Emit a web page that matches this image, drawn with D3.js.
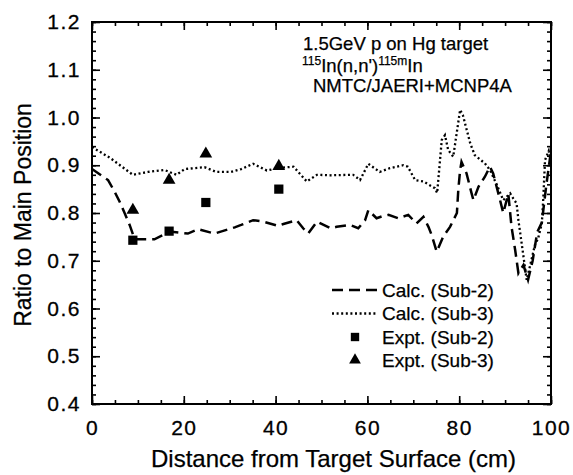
<!DOCTYPE html>
<html>
<head>
<meta charset="utf-8">
<script src="https://cdn.jsdelivr.net/npm/d3@7"></script>
<style>
body { margin: 0; background: #fff; }
svg { font-family: Arial, "Liberation Sans", Helvetica, sans-serif; }
</style>
</head>
<body>
<svg id="svg1" width="573" height="475"></svg>
<script>
// Calc. (Sub-2), dashed
var sub2X = [0, 3.5, 4.9, 6, 7.1, 8.2, 9.3, 13.6, 16.9, 20.9, 23.1, 26.7, 31.1, 32.5, 35.1, 37.3, 40.6, 41.7, 44.6, 46, 47.1, 49, 52, 53.3, 56.2, 58, 59.5, 60.2, 62, 63.5, 64.6, 66.7, 68.9, 70.7, 72.2, 73.3, 74, 75.1, 76.5, 78, 79.5, 79.8, 80.2, 80.5, 81.6, 82.7, 83.1, 84.2, 85.6, 86.7, 87.4, 88.9, 89.6, 90.7, 91.4, 92.2, 92.9, 94, 95, 96, 97, 98, 99, 100];
var sub2Y = [0.892, 0.869, 0.845, 0.824, 0.8, 0.775, 0.745, 0.745, 0.761, 0.757, 0.766, 0.757, 0.77, 0.775, 0.785, 0.782, 0.773, 0.777, 0.785, 0.768, 0.757, 0.782, 0.768, 0.771, 0.775, 0.768, 0.785, 0.806, 0.789, 0.794, 0.796, 0.789, 0.796, 0.778, 0.792, 0.771, 0.754, 0.719, 0.75, 0.771, 0.8, 0.848, 0.89, 0.907, 0.883, 0.841, 0.827, 0.855, 0.876, 0.897, 0.883, 0.827, 0.8, 0.84, 0.771, 0.722, 0.674, 0.691, 0.66, 0.7, 0.76, 0.78, 0.86, 0.93];
// Calc. (Sub-3), dotted
var sub3X = [0, 4, 8.9, 12.2, 15.8, 18.4, 20.2, 24.5, 27.1, 30.3, 32.5, 35.1, 38.1, 40.5, 43.9, 46.8, 49, 52, 56.9, 58.4, 60.2, 62.7, 64.9, 67.8, 68.8, 70.4, 72.2, 74.7, 75.2, 76.2, 76.9, 77.6, 78.7, 80.2, 80.8, 82.4, 83.4, 85.6, 86.7, 88.2, 89.6, 91.1, 91.8, 92.5, 92.9, 93.6, 94.7, 95.4, 96.5, 97.2, 98, 98.3, 98.7, 99.5, 100];
var sub3Y = [0.938, 0.915, 0.88, 0.886, 0.89, 0.88, 0.892, 0.896, 0.886, 0.886, 0.892, 0.903, 0.889, 0.894, 0.897, 0.866, 0.88, 0.879, 0.88, 0.869, 0.903, 0.886, 0.894, 0.9, 0.897, 0.869, 0.866, 0.852, 0.842, 0.953, 0.963, 0.932, 0.918, 1.016, 1.005, 0.946, 0.921, 0.904, 0.89, 0.859, 0.827, 0.841, 0.83, 0.82, 0.785, 0.737, 0.66, 0.688, 0.733, 0.747, 0.778, 0.827, 0.911, 0.93, 0.905];
// measurements
var exptX = [8.9, 16.8, 24.8, 40.7];
var expt2Y = [0.743, 0.762, 0.822, 0.85];
var expt3Y = [0.806, 0.869, 0.924, 0.898];

var legendLabels = ['Calc. (Sub-2)', 'Calc. (Sub-3)', 'Expt. (Sub-2)', 'Expt. (Sub-3)'];

var svg1 = d3.select('#svg1');
var left = 92, top_ = 22, right = 551, bottom = 404;

var x = d3.scaleLinear().domain([0, 100]).range([left, right]);
var y = d3.scaleLinear().domain([0.4, 1.2]).range([bottom, top_]);

var xMajor = d3.range(0, 101, 20), xMinor = d3.range(0, 101, 5);
var yMajor = d3.range(4, 13).map(d => d / 10), yMinor = d3.range(20, 61).map(d => d / 50);

function styleAxis(g) {
	g.select('.domain').remove();
	g.selectAll('line').attr('stroke', '#000').attr('stroke-width', 1.6);
	g.selectAll('text').attr('fill', '#000').attr('font-size', 21).attr('letter-spacing', 1.5)
		.attr('stroke', '#000').attr('stroke-width', 0.3);
}

// minor ticks
svg1.append('g').attr('transform', 'translate(0,' + bottom + ')')
	.call(d3.axisBottom(x).tickValues(xMinor).tickFormat('').tickSize(-4)).call(styleAxis);
svg1.append('g').attr('transform', 'translate(0,' + top_ + ')')
	.call(d3.axisTop(x).tickValues(xMinor).tickFormat('').tickSize(-4)).call(styleAxis);
svg1.append('g').attr('transform', 'translate(' + left + ',0)')
	.call(d3.axisLeft(y).tickValues(yMinor).tickFormat('').tickSize(-4)).call(styleAxis);
svg1.append('g').attr('transform', 'translate(' + right + ',0)')
	.call(d3.axisRight(y).tickValues(yMinor).tickFormat('').tickSize(-4)).call(styleAxis);

// major ticks + labels
svg1.append('g').attr('transform', 'translate(0,' + bottom + ')')
	.call(d3.axisBottom(x).tickValues(xMajor).tickFormat(d3.format('d')).tickSize(-8).tickPadding(16)).call(styleAxis);
svg1.append('g').attr('transform', 'translate(0,' + top_ + ')')
	.call(d3.axisTop(x).tickValues(xMajor).tickFormat('').tickSize(-8)).call(styleAxis);
svg1.append('g').attr('transform', 'translate(' + left + ',0)')
	.call(d3.axisLeft(y).tickValues(yMajor).tickFormat(d3.format('.1f')).tickSize(-8).tickPadding(11)).call(styleAxis);
svg1.append('g').attr('transform', 'translate(' + right + ',0)')
	.call(d3.axisRight(y).tickValues(yMajor).tickFormat('').tickSize(-8)).call(styleAxis);

svg1.append('rect').attr('x', left).attr('y', top_).attr('width', right - left).attr('height', bottom - top_)
	.attr('fill', 'none').attr('stroke', '#000').attr('stroke-width', 2);

// curves
var line = d3.line().x(d => x(d[0])).y(d => y(d[1]));
svg1.append('path').datum(d3.zip(sub2X, sub2Y)).attr('d', line)
	.attr('fill', 'none').attr('stroke', '#000').attr('stroke-width', 2.5).attr('stroke-dasharray', '11,6');
svg1.append('path').datum(d3.zip(sub3X, sub3Y)).attr('d', line)
	.attr('fill', 'none').attr('stroke', '#000').attr('stroke-width', 2.3).attr('stroke-dasharray', '2,2.6');

var sq = d3.symbol().type(d3.symbolSquare).size(85);
var tri = d3.symbol().type(d3.symbolTriangle).size(70);
svg1.selectAll('empty').data(d3.zip(exptX, expt2Y)).enter().append('path')
	.attr('d', sq).attr('transform', d => 'translate(' + x(d[0]) + ',' + y(d[1]) + ')').attr('fill', '#000');
svg1.selectAll('empty').data(d3.zip(exptX, expt3Y)).enter().append('path')
	.attr('d', tri).attr('transform', d => 'translate(' + x(d[0]) + ',' + y(d[1]) + ')').attr('fill', '#000');

// annotation
var note = svg1.append('g').attr('font-size', 18.5).attr('fill', '#000').attr('stroke', '#000').attr('stroke-width', 0.25);
note.append('text').attr('x', 303).attr('y', 50).text('1.5GeV p on Hg target');
var t2 = note.append('text').attr('x', 302).attr('y', 72);
t2.append('tspan').attr('font-size', 12).attr('dy', -7).text('115');
t2.append('tspan').attr('dy', 7).text('In(n,n\')');
t2.append('tspan').attr('font-size', 12).attr('dy', -7).text('115m');
t2.append('tspan').attr('dy', 7).text('In');
note.append('text').attr('x', 313).attr('y', 92).text('NMTC/JAERI+MCNP4A');

// legend
var ly = [290, 313.5, 337, 360];
var lg = svg1.append('g').attr('font-size', 19).attr('fill', '#000');
lg.selectAll('text').data(legendLabels).enter().append('text')
	.attr('x', 382).attr('y', (d, i) => ly[i]).attr('dy', '0.35em')
	.attr('stroke', '#000').attr('stroke-width', 0.25).text(d => d);
lg.append('line').attr('x1', 332).attr('x2', 379).attr('y1', ly[0]).attr('y2', ly[0])
	.attr('stroke', '#000').attr('stroke-width', 2.5).attr('stroke-dasharray', '11,6');
lg.append('line').attr('x1', 332).attr('x2', 378).attr('y1', ly[1]).attr('y2', ly[1])
	.attr('stroke', '#000').attr('stroke-width', 2.3).attr('stroke-dasharray', '2,2.6');
lg.append('path').attr('d', d3.symbol().type(d3.symbolSquare).size(70)).attr('transform', 'translate(355,' + ly[2] + ')');
lg.append('path').attr('d', d3.symbol().type(d3.symbolTriangle).size(60)).attr('transform', 'translate(355,' + ly[3] + ')');

// axis titles
svg1.append('text').attr('x', (left + right) / 2 + 12).attr('y', 467).attr('text-anchor', 'middle')
	.attr('font-size', 24).attr('fill', '#000').attr('stroke', '#000').attr('stroke-width', 0.25)
	.text('Distance from Target Surface (cm)');
svg1.append('text').attr('transform', 'translate(31,' + ((top_ + bottom) / 2 + 2) + ') rotate(-90)')
	.attr('text-anchor', 'middle').attr('font-size', 23).attr('fill', '#000').attr('stroke', '#000').attr('stroke-width', 0.25)
	.text('Ratio to Main Position');
</script>
</body>
</html>
